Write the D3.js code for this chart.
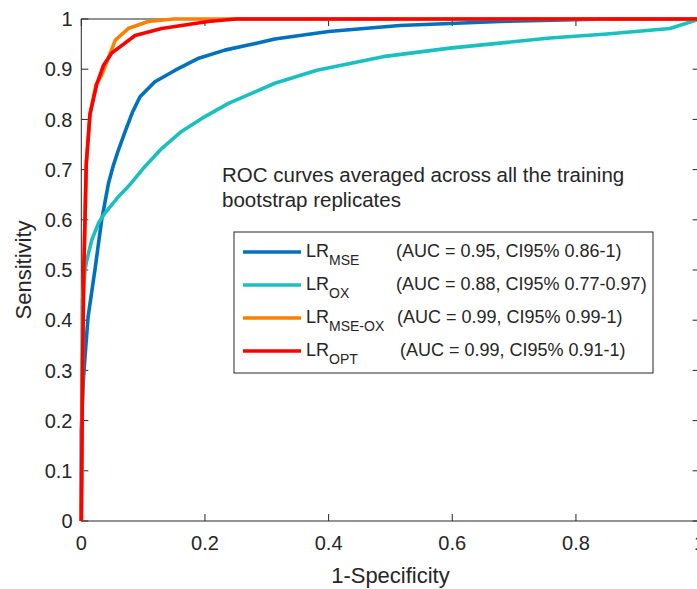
<!DOCTYPE html>
<html lang="en">
<head>
<meta charset="utf-8" />
<title>ROC curves</title>
<script src="https://cdn.jsdelivr.net/npm/d3@7/dist/d3.min.js"></script>
<style>
  body { margin: 0; background: #fff; }
  text { font-family: "Liberation Sans", Arial, Helvetica, sans-serif; fill: #262626; }
</style>
</head>
<body>
<svg width="697" height="589"></svg>
<script>
// ROC curves: [1-specificity, sensitivity]
var mseFpr = [0, 0, 0.003, 0.006, 0.011, 0.022, 0.033, 0.044, 0.052, 0.06, 0.071, 0.083, 0.095, 0.119, 0.152, 0.19, 0.232, 0.27, 0.313, 0.4, 0.515, 0.677, 0.85, 1];
var mseTpr = [0, 0.18, 0.275, 0.327, 0.407, 0.5, 0.6, 0.673, 0.709, 0.739, 0.776, 0.815, 0.845, 0.875, 0.898, 0.922, 0.938, 0.948, 0.96, 0.975, 0.987, 0.995, 1, 1];

var oxFpr = [0, 0.002, 0.006, 0.009, 0.017, 0.028, 0.038, 0.06, 0.08, 0.1, 0.13, 0.162, 0.195, 0.238, 0.281, 0.313, 0.381, 0.488, 0.596, 0.677, 0.758, 0.85, 0.952, 1];
var oxTpr = [0, 0.44, 0.5, 0.52, 0.56, 0.594, 0.613, 0.646, 0.672, 0.702, 0.742, 0.776, 0.802, 0.832, 0.855, 0.872, 0.898, 0.925, 0.942, 0.952, 0.962, 0.97, 0.981, 1];

var mseOxFpr = [0, 0.002, 0.004, 0.006, 0.008, 0.014, 0.024, 0.033, 0.055, 0.076, 0.108, 0.15, 0.3, 1];
var mseOxTpr = [0, 0.3, 0.5, 0.6, 0.71, 0.81, 0.87, 0.888, 0.958, 0.981, 0.995, 1, 1, 1];

var optFpr = [0, 0.002, 0.004, 0.006, 0.008, 0.014, 0.025, 0.036, 0.049, 0.087, 0.13, 0.205, 0.25, 1];
var optTpr = [0, 0.3, 0.5, 0.6, 0.71, 0.81, 0.87, 0.908, 0.932, 0.967, 0.981, 0.995, 1, 1];

var seriesNames = ["MSE", "OX", "MSE-OX", "OPT"];
var seriesColors = ["#0072BD", "#1ABFBF", "#FF8000", "#FF0000"];
var aucTexts = ["(AUC = 0.95, CI95% 0.86-1)", "(AUC = 0.88, CI95% 0.77-0.97)", "(AUC = 0.99, CI95% 0.99-1)", "(AUC = 0.99, CI95% 0.91-1)"];
var aucOffsets = [0, 0, 1, 4];
var xTicks = [0, 0.2, 0.4, 0.6, 0.8, 1];
var yTicks = [0, 0.1, 0.2, 0.3, 0.4, 0.5, 0.6, 0.7, 0.8, 0.9, 1];

var svg = d3.select("svg");
var x = d3.scaleLinear().domain([0, 1]).range([81.3, 699.6]);
var y = d3.scaleLinear().domain([0, 1]).range([521, 19]);
var tickLen = 7;
var axisColor = "#262626";

// box
svg.append("rect")
    .attr("x", x(0)).attr("y", y(1))
    .attr("width", x(1) - x(0)).attr("height", y(0) - y(1))
    .attr("fill", "none").attr("stroke", axisColor).attr("stroke-width", 1);

// ticks on all four sides, pointing inward
xTicks.forEach(function (t) {
    svg.append("line").attr("x1", x(t)).attr("x2", x(t)).attr("y1", y(0)).attr("y2", y(0) - tickLen).attr("stroke", axisColor);
    svg.append("line").attr("x1", x(t)).attr("x2", x(t)).attr("y1", y(1)).attr("y2", y(1) + tickLen).attr("stroke", axisColor);
    svg.append("text").attr("x", x(t)).attr("y", 550)
        .attr("text-anchor", "middle").attr("font-size", 20).text(t);
});
yTicks.forEach(function (t) {
    svg.append("line").attr("x1", x(0)).attr("x2", x(0) + tickLen).attr("y1", y(t)).attr("y2", y(t)).attr("stroke", axisColor);
    svg.append("line").attr("x1", x(1)).attr("x2", x(1) - tickLen).attr("y1", y(t)).attr("y2", y(t)).attr("stroke", axisColor);
    svg.append("text").attr("x", 72.5).attr("y", y(t)).attr("dy", "0.36em")
        .attr("text-anchor", "end").attr("font-size", 20).text(t);
});

// axis labels
svg.append("text").attr("x", (x(0) + x(1)) / 2).attr("y", 582.5)
    .attr("text-anchor", "middle").attr("font-size", 22).text("1-Specificity");
svg.append("text")
    .attr("transform", "translate(31," + ((y(0) + y(1)) / 2) + ") rotate(-90)")
    .attr("text-anchor", "middle").attr("font-size", 22).text("Sensitivity");

// curves
var curves = [
    d3.zip(mseFpr, mseTpr),
    d3.zip(oxFpr, oxTpr),
    d3.zip(mseOxFpr, mseOxTpr),
    d3.zip(optFpr, optTpr)
];
var line = d3.line().x(function (d) { return x(d[0]); }).y(function (d) { return y(d[1]); });
curves.forEach(function (c, i) {
    svg.append("path").datum(c).attr("d", line)
        .attr("fill", "none").attr("stroke", seriesColors[i])
        .attr("stroke-width", 3.6).attr("stroke-linejoin", "round");
});

// annotation
svg.append("text").attr("x", 222).attr("y", 182).attr("font-size", 20.5).text("ROC curves averaged across all the training");
svg.append("text").attr("x", 222).attr("y", 207).attr("font-size", 20.5).text("bootstrap replicates");

// legend
var lg = svg.append("g");
lg.append("rect").attr("x", 234).attr("y", 232).attr("width", 419).attr("height", 141)
    .attr("fill", "#fff").attr("stroke", axisColor).attr("stroke-width", 1);
seriesNames.forEach(function (name, i) {
    var ly = 252 + i * 33;
    lg.append("line").attr("x1", 243).attr("x2", 301).attr("y1", ly).attr("y2", ly)
        .attr("stroke", seriesColors[i]).attr("stroke-width", 3.6);
    var t = lg.append("text").attr("x", 306).attr("y", ly + 5).attr("font-size", 18);
    t.append("tspan").text("LR");
    t.append("tspan").attr("font-size", 14).attr("dy", 8).text(name);
    lg.append("text").attr("x", 396 + aucOffsets[i]).attr("y", ly + 5).attr("font-size", 18).text(aucTexts[i]);
});
</script>
</body>
</html>
